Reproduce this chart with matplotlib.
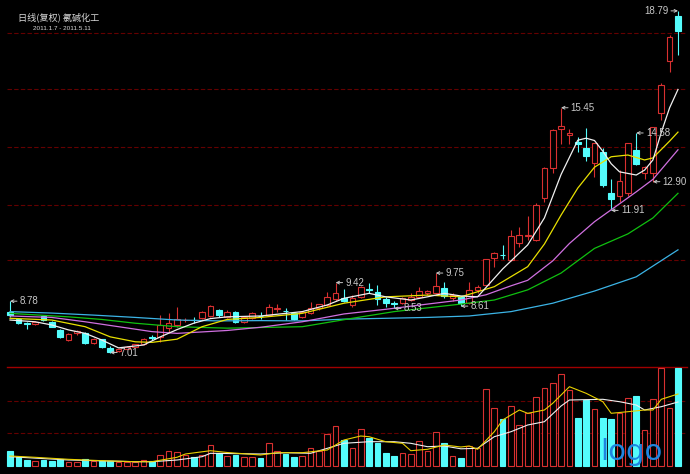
import numpy as np
import matplotlib
matplotlib.use('Agg')
import matplotlib.pyplot as plt

# daily bars, 2011-01-07 .. 2011-05-11
opens = [8.42, 8.15, 8.03, 7.98, 8.27, 8.07, 7.79, 7.44, 7.67, 7.69,
         7.33, 7.46, 7.18, 7.06, 7.14, 7.21, 7.30, 7.54, 7.55, 7.84,
         7.96, 8.12, 8.14, 8.19, 8.27, 8.48, 8.24, 8.42, 8.07, 8.19,
         8.28, 8.30, 8.52, 8.45, 8.36, 8.22, 8.38, 8.53, 8.65, 8.84,
         8.88, 8.65, 8.94, 9.20, 9.11, 8.84, 8.72, 8.71, 8.82, 8.94,
         9.05, 9.07, 9.25, 8.88, 8.91, 8.73, 9.17, 9.34, 10.26, 10.38,
         10.20, 10.80, 11.04, 10.89, 12.33, 13.36, 14.70, 14.51, 14.28, 14.05,
         13.53, 13.94, 12.50, 12.40, 12.50, 14.01, 13.21, 13.21, 15.27, 17.07,
         18.61]
highs = [8.78, 8.20, 8.07, 8.10, 8.30, 8.10, 7.82, 7.70, 7.80, 7.72,
         7.50, 7.48, 7.22, 7.16, 7.24, 7.32, 7.52, 7.62, 8.30, 8.36,
         8.59, 8.20, 8.22, 8.45, 8.65, 8.52, 8.46, 8.45, 8.25, 8.40,
         8.42, 8.70, 8.68, 8.53, 8.40, 8.45, 8.74, 8.70, 9.11, 9.42,
         9.19, 8.99, 9.32, 9.40, 9.34, 8.92, 8.79, 8.92, 9.07, 9.28,
         9.17, 9.75, 9.45, 9.05, 8.97, 9.45, 9.34, 10.25, 10.49, 10.72,
         11.24, 11.35, 11.70, 12.15, 13.40, 14.72, 15.45, 14.70, 14.45, 14.74,
         14.25, 14.05, 12.99, 13.30, 14.25, 14.58, 13.45, 14.80, 16.30, 17.95,
         18.79]
lows = [8.25, 8.00, 7.81, 7.95, 8.10, 7.88, 7.50, 7.40, 7.62, 7.30,
        7.30, 7.15, 7.01, 7.03, 7.12, 7.18, 7.28, 7.45, 7.38, 7.72,
        7.90, 8.05, 8.02, 8.15, 8.22, 8.25, 8.20, 8.04, 8.03, 8.15,
        8.15, 8.27, 8.42, 8.13, 8.13, 8.19, 8.35, 8.48, 8.62, 8.80,
        8.76, 8.59, 8.90, 9.05, 8.65, 8.59, 8.53, 8.67, 8.78, 8.90,
        9.00, 9.03, 8.88, 8.80, 8.61, 8.70, 9.05, 9.30, 9.97, 10.22,
        10.15, 10.66, 10.89, 10.85, 12.20, 13.20, 14.20, 14.20, 13.93, 13.62,
        13.05, 12.73, 11.91, 12.21, 12.40, 13.47, 12.98, 12.90, 15.03, 16.69,
        17.27]
closes = [8.30, 8.04, 8.01, 8.07, 8.13, 7.90, 7.53, 7.64, 7.76, 7.33,
          7.46, 7.19, 7.04, 7.13, 7.21, 7.29, 7.49, 7.52, 7.96, 8.04,
          8.15, 8.14, 8.12, 8.42, 8.61, 8.30, 8.42, 8.07, 8.22, 8.36,
          8.26, 8.59, 8.54, 8.43, 8.17, 8.42, 8.56, 8.67, 8.94, 9.05,
          8.79, 8.88, 9.28, 9.18, 8.84, 8.73, 8.70, 8.88, 8.91, 9.13,
          9.14, 9.30, 8.96, 8.99, 8.71, 9.17, 9.28, 10.22, 10.43, 10.36,
          11.03, 11.06, 11.07, 12.10, 13.36, 14.68, 14.82, 14.59, 14.19, 13.79,
          14.22, 12.79, 12.29, 12.93, 14.22, 13.51, 13.39, 14.77, 16.23, 17.88,
          18.11]
volumes = [15.3, 9.3, 6.0, 5.3, 6.0, 5.3, 7.0, 4.3, 4.3, 6.7,
           5.0, 5.0, 5.0, 3.7, 3.7, 4.3, 6.0, 5.0, 11.3, 15.3,
           13.7, 11.3, 8.7, 11.0, 21.3, 12.7, 10.0, 11.0, 9.3, 9.3,
           8.3, 22.7, 15.3, 11.7, 9.3, 10.0, 17.7, 15.0, 32.0, 40.0,
           26.0, 17.7, 36.7, 28.3, 23.3, 12.7, 10.3, 12.7, 12.0, 25.0,
           15.0, 33.7, 23.3, 10.0, 8.3, 20.0, 17.7, 76.7, 58.3, 46.7,
           60.0, 41.0, 52.7, 69.3, 77.7, 82.7, 91.7, 76.0, 47.7, 66.0,
           56.7, 47.7, 46.7, 52.7, 67.7, 70.0, 36.0, 66.7, 97.7, 57.7,
           97.7]

# moving average lines (bar index -> value)
ma5_idx = [0, 3, 5, 7, 9, 11, 13, 16, 18, 20, 22, 24, 26, 30, 35, 38, 40, 43, 45, 48,
           50, 52, 54, 56, 57, 59, 62, 64, 66, 68, 69, 70, 71, 72, 73, 75, 76, 77, 78, 79, 80]
ma5 = [8.13, 8.07, 7.96, 7.79, 7.67, 7.44, 7.17, 7.27, 7.55, 7.80, 8.02, 8.18, 8.24, 8.27, 8.42,
       8.65, 8.88, 9.05, 8.93, 8.82, 8.93, 9.05, 8.96, 8.93, 9.25, 9.89, 10.72, 11.65, 13.15,
       14.33, 14.40, 14.32, 13.95, 13.52, 13.24, 13.13, 13.30, 13.65, 14.60, 15.45, 16.08]
ma10_idx = [0, 5, 9, 12, 15, 17, 20, 23, 26, 30, 35, 40, 45, 50, 54, 58, 62, 64, 66, 68,
            70, 72, 74, 76, 77, 79, 80]
ma10 = [8.19, 8.13, 7.90, 7.55, 7.38, 7.36, 7.47, 7.90, 8.15, 8.22, 8.36, 8.71, 8.93, 8.99,
        8.93, 9.28, 9.97, 10.75, 11.75, 12.68, 13.40, 13.76, 13.82, 13.65, 13.72, 14.30, 14.61]
ma20_idx = [0, 5, 9, 13, 17, 20, 26, 30, 35, 40, 45, 50, 54, 57, 60, 62, 65, 67, 70, 75, 77, 80]
ma20 = [8.27, 8.22, 8.07, 7.90, 7.73, 7.67, 7.77, 7.88, 8.07, 8.34, 8.50, 8.68, 8.82, 9.00,
        9.31, 9.50, 10.17, 10.77, 11.52, 12.55, 12.98, 14.00]
ma30_idx = [0, 7, 11, 15, 20, 26, 35, 41, 46, 54, 58, 62, 66, 70, 74, 77, 80]
ma30 = [8.36, 8.24, 8.15, 8.02, 7.90, 7.85, 7.90, 8.19, 8.42, 8.68, 8.82, 9.17, 9.75,
        10.60, 11.10, 11.65, 12.50]
ma60_idx = [0, 5, 10, 15, 20, 25, 30, 35, 40, 45, 50, 55, 60, 65, 70, 75, 80]
ma60 = [8.42, 8.37, 8.30, 8.22, 8.13, 8.10, 8.11, 8.10, 8.16, 8.19, 8.22, 8.27, 8.42,
        8.71, 9.13, 9.62, 10.55]

vma5_idx = [0, 3, 7, 11, 15, 17, 20, 21, 24, 26, 30, 32, 35, 38, 40, 42, 43, 45, 47, 48,
            50, 52, 54, 55, 56, 58, 59, 61, 62, 64, 65, 67, 69, 71, 72, 74, 76, 77, 78, 80]
vma5 = [10.0, 8.7, 6.7, 5.3, 4.3, 4.3, 8.7, 12.0, 15.3, 13.5, 11.0, 13.3, 13.3, 16.0, 26.0,
        30.0, 29.3, 24.3, 22.7, 15.3, 16.7, 21.0, 19.0, 20.0, 16.7, 34.3, 46.0, 56.0, 52.7,
        56.0, 62.7, 79.3, 72.7, 64.3, 52.7, 54.3, 56.0, 56.0, 66.7, 72.0]
vma10_idx = [0, 7, 15, 17, 20, 23, 24, 26, 30, 33, 36, 38, 40, 43, 46, 48, 50, 52, 54, 56,
             58, 60, 62, 64, 66, 67, 71, 73, 75, 76, 78, 80]
vma10 = [9.3, 6.0, 4.3, 4.3, 6.0, 9.3, 12.7, 12.5, 12.0, 13.3, 12.7, 17.7, 22.7, 24.3, 24.3,
         22.7, 19.3, 20.0, 17.2, 17.7, 29.3, 34.3, 41.0, 44.3, 60.0, 66.0, 66.7, 64.3, 61.0,
         56.0, 59.3, 64.0]

# (bar index, price, side) of the marked highs / lows
marks = [(0, 8.78, 1), (12, 7.01, 1), (39, 9.42, 1), (46, 8.53, 1), (51, 9.75, 1),
         (54, 8.61, 1), (66, 15.45, 1), (72, 11.91, 1), (75, 14.58, 1), (77, 12.90, 1),
         (80, 18.79, -1)]

RED = '#d83030'
CYAN = '#54fcfc'
GRID = '#640000'

o = np.array(opens)
h = np.array(highs)
l = np.array(lows)
c = np.array(closes)
x = np.arange(len(c))
up = c >= o
cols = [RED if u else CYAN for u in up]

H = 474.0
fig = plt.figure(figsize=(6.9, 4.74), dpi=100, facecolor='black')
ax = fig.add_axes([0, (H - 366) / H, 1, 366 / H])
axv = fig.add_axes([0, 0, 1, 108 / H])
for a in (ax, axv):
    a.set_axis_off()
    a.set_xlim(-1.2, 81.44)
ax.set_ylim(6.545, 19.165)
axv.set_ylim(-8, 100)

# grid
for lev in [18.02, 16.10, 14.11, 12.10, 10.20]:
    ax.axhline(lev, xmin=0.01, xmax=0.995, color=GRID, lw=0.8, ls=(0, (4, 2)), zorder=0)
for lev in [32.7, 65.3]:
    axv.axhline(lev, xmin=0.01, xmax=0.995, color=GRID, lw=0.8, ls=(0, (4, 2)), zorder=0)
axv.axhline(99.3, xmin=0.01, xmax=0.995, color='#a00000', lw=1.0, zorder=0)

# candles
bot = np.minimum(o, c)
top = np.maximum(o, c)
ax.vlines(x, l, bot, colors=cols, lw=0.8, zorder=2)
ax.vlines(x, top, h, colors=cols, lw=0.8, zorder=2)
ax.bar(x, np.maximum(top - bot, 0.015), bottom=bot, width=0.68,
       color=['black' if u else CYAN for u in up], edgecolor=cols, linewidth=0.8, zorder=3)

# moving averages
ax.plot(ma60_idx, ma60, color='#3cb4e6', lw=0.9, zorder=4)
ax.plot(ma30_idx, ma30, color='#10c010', lw=0.9, zorder=4)
ax.plot(ma20_idx, ma20, color='#d070e0', lw=0.9, zorder=4)
ax.plot(ma10_idx, ma10, color='#e8e000', lw=0.9, zorder=4)
ax.plot(ma5_idx, ma5, color='#f0f0f0', lw=0.9, zorder=4)

# high / low marks
for i, v, side in marks:
    ax.annotate(f'{v:.2f}', xy=(i, v), xytext=(7 * side, 0), textcoords='offset points',
                ha='left' if side > 0 else 'right', va='center', color='#c8c8c8',
                fontsize=7, family='Liberation Sans', zorder=6,
                arrowprops=dict(arrowstyle='->', color='#c8c8c8', lw=0.7,
                                shrinkA=0, shrinkB=0, mutation_scale=5))

# volume
v = np.array(volumes)
axv.bar(x, v, width=0.68, color=['black' if u else CYAN for u in up],
        edgecolor=cols, linewidth=0.8, zorder=2)
axv.plot(vma10_idx, vma10, color='#f0f0f0', lw=0.8, zorder=3)
axv.plot(vma5_idx, vma5, color='#e8d000', lw=0.8, zorder=3)

# titles
fig.text(18 / 690, 1 - 17 / H, '日线(复权) 氯碱化工', color='#d8d8d8', fontsize=6.6,
         va='center', ha='left', family=['Noto Sans CJK SC', 'DejaVu Sans'])
fig.text(33 / 690, 1 - 28.5 / H, '2011.1.7 - 2011.5.11', color='#d8d8d8', fontsize=4.6,
         va='center', ha='left', family=['Liberation Sans Narrow', 'Liberation Sans'])
fig.text(600 / 690, 14 / H, 'logo', color='#1f86e0', fontsize=21, va='baseline', ha='left')

fig.savefig('out.png', dpi=100, facecolor='black')
